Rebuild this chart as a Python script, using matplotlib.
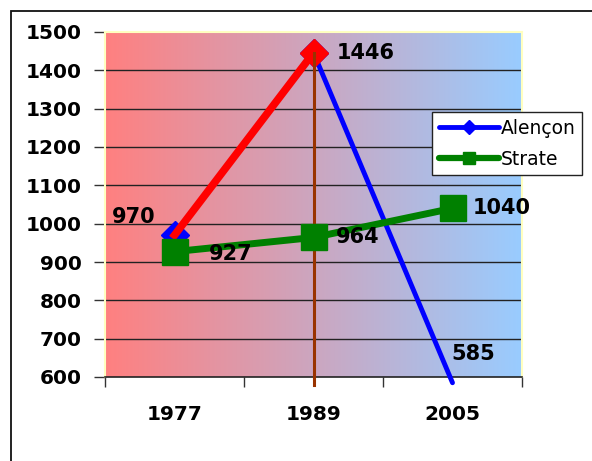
import numpy as np
import matplotlib.pyplot as plt
from matplotlib.patches import Rectangle
from matplotlib.lines import Line2D
import matplotlib.colors as mcolors

plt.rcParams['font.family'] = ['DejaVu Sans']

years = ["1977", "1989", "2005"]
alencon = [970, 1446, 585]
strate = [927, 964, 1040]

x = np.arange(len(years))

fig = plt.figure(figsize=(5.92, 4.61), dpi=100)
ax = fig.add_axes([105 / 592, 84 / 461, 417 / 592, 345 / 461])

# red -> light blue horizontal gradient for the plot area
cmap = mcolors.LinearSegmentedColormap.from_list("bg", ["#ff8080", "#99ccff"])
grad = np.linspace(0, 1, 256).reshape(1, -1)
ax.imshow(grad, extent=[0, 1, 0, 1], transform=ax.transAxes, aspect="auto",
          cmap=cmap, zorder=0, interpolation="bicubic")

ax.set_xlim(-0.5, 2.5)
ax.set_ylim(600, 1500)

for yv in range(700, 1500, 100):
    ax.axhline(yv, color="#222222", lw=1, zorder=1)

# lines
ax.plot(x, alencon, color="#0000ff", lw=3.5, marker="D", markersize=14,
        zorder=3, clip_on=False, markevery=[0, 1], solid_capstyle="round")
ax.plot(x[:2], alencon[:2], color="#ff0000", lw=5.5, marker="D", markersize=14,
        markevery=[1], zorder=4, clip_on=False)
ax.plot([1, 1], [alencon[1], 580], color="#993300", lw=2.2, zorder=5, clip_on=False)
ax.plot(x, strate, color="#008000", lw=5, marker="s", markersize=19, zorder=6)

lab = dict(fontsize=15, fontweight="bold", textcoords="offset pixels",
           ha="center", va="center", zorder=7, annotation_clip=False)
ax.annotate(str(alencon[0]), (x[0], alencon[0]), xytext=(-41, 18), **lab)
ax.annotate(str(alencon[1]), (x[1], alencon[1]), xytext=(52, 0), **lab)
ax.annotate(str(alencon[2]), (x[2], alencon[2]), xytext=(21, 29), **lab)
ax.annotate(str(strate[0]), (x[0], strate[0]), xytext=(56, -2), **lab)
ax.annotate(str(strate[1]), (x[1], strate[1]), xytext=(44, 0), **lab)
ax.annotate(str(strate[2]), (x[2], strate[2]), xytext=(49, 0), **lab)

# axes styling
for s in ["top", "right", "left"]:
    ax.spines[s].set_color("#ffffc0")
    ax.spines[s].set_linewidth(1.5)
ax.spines["bottom"].set_color("#222222")
ax.spines["bottom"].set_linewidth(1.2)

ax.set_yticks(range(600, 1501, 100))
ax.tick_params(axis="y", length=8, width=1, color="#333333", pad=8.5, labelsize=14.5)
for t in ax.get_yticklabels():
    t.set_fontweight("bold")

ax.set_xticks([-0.5, 0.5, 1.5, 2.5])
ax.set_xticklabels([])
ax.tick_params(axis="x", length=7, width=1, color="#333333")
ax.set_xticks(x, minor=True)
ax.set_xticklabels(years, minor=True, fontsize=14.5, fontweight="bold")
ax.tick_params(axis="x", which="minor", length=0, pad=20)

handles = [Line2D([], [], color="#0000ff", lw=3.5, marker="D", markersize=7,
                  solid_capstyle="round"),
           Line2D([], [], color="#008000", lw=4.5, marker="s", markersize=8,
                  solid_capstyle="round")]
leg = fig.legend(handles, ["Alençon", "Strate"], loc="upper left",
                 bbox_to_anchor=(432 / 592, 1 - 112 / 461), fontsize=13.5,
                 frameon=True, fancybox=False, framealpha=1, edgecolor="#222222",
                 handlelength=3.2, handletextpad=0.1, borderpad=0.35,
                 labelspacing=0.65, borderaxespad=0)
leg.get_frame().set_linewidth(1)

# chart border
fig.add_artist(Rectangle((10.5 / 592, -0.2), 1.2, 1.2 - 10.5 / 461,
                         transform=fig.transFigure, fill=False,
                         edgecolor="#111111", lw=1.3))

fig.savefig("out.png", dpi=100)
